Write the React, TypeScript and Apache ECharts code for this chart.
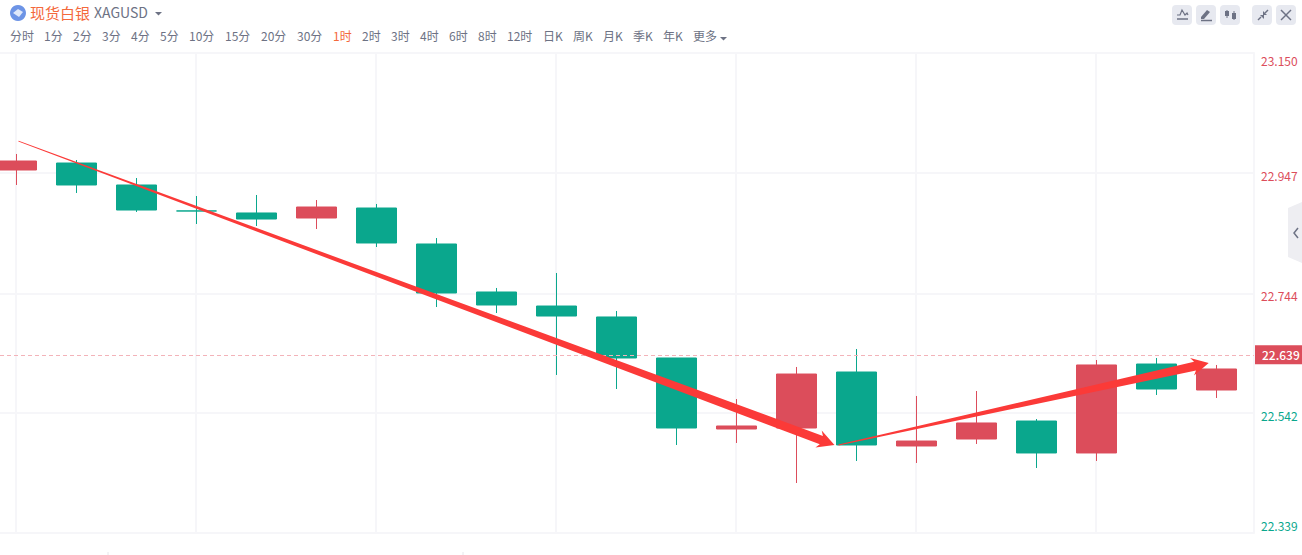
import React, { useEffect, useRef } from "react";
import * as echarts from "echarts";

const FONT = '"Noto Sans CJK SC", "Noto Sans", sans-serif';
const RED = "#dc4d5b";
const GREEN = "#0aa78d";
const ARROW = "#fb3a38";
const GRID_LINE = "#f6f6f9";
const GREY = "#6d7284";

const tabNames = ["分时", "1分", "2分", "3分", "4分", "5分", "10分", "15分", "20分", "30分", "1时", "2时", "3时", "4时", "6时", "8时", "12时", "日K", "周K", "月K", "季K", "年K", "更多"];
const tabLefts = [10, 44, 73, 102, 131, 160, 189, 225, 261, 297, 333, 362, 391, 420, 449, 478, 507, 543, 573, 603, 633, 663, 693];
const activeTab = "1时";

const priceTicks = [22.339, 22.542, 22.744, 22.947, 23.15];
const timeTicks = [0, 3, 6, 9, 12, 15, 18];
const currentPrice = 22.639;

const opens = [22.9523, 22.9641, 22.927, 22.8831, 22.8797, 22.8712, 22.8881, 22.8273, 22.7462, 22.7225, 22.704, 22.6347, 22.5147, 22.5164, 22.611, 22.486, 22.4978, 22.5282, 22.4742, 22.6245, 22.5806];
const closes = [22.9675, 22.927, 22.8847, 22.8831, 22.8695, 22.8898, 22.829, 22.7445, 22.7242, 22.7056, 22.6347, 22.5164, 22.5198, 22.6076, 22.4877, 22.4944, 22.5249, 22.4742, 22.6229, 22.5823, 22.6161];
const lows = [22.927, 22.9135, 22.8814, 22.8611, 22.8577, 22.8526, 22.8222, 22.7208, 22.7107, 22.606, 22.5823, 22.4877, 22.4911, 22.4235, 22.4607, 22.4573, 22.4894, 22.4488, 22.4607, 22.5722, 22.5671];
const highs = [22.9794, 22.9692, 22.9388, 22.9084, 22.9101, 22.9016, 22.8949, 22.8374, 22.753, 22.7783, 22.7141, 22.6347, 22.5654, 22.6195, 22.6499, 22.5705, 22.5789, 22.5316, 22.6313, 22.6347, 22.6229];

// Trend annotations: [start index, start price, end index, end price, neck width]
const downArrow = [0.033, 23.0013, 13.633, 22.4877, 9];
const upArrow = [13.7, 22.4877, 19.87, 22.6262, 9];

const bottomMarks = [108, 463];

function txt(x: number, y: number, text: string, size: number, fill: string) {
  return {
    type: "text",
    x,
    y,
    silent: true,
    style: { text, fill, font: `${size}px ${FONT}`, verticalAlign: "middle", align: "left" },
  };
}
const line = (x1: number, y1: number, x2: number, y2: number, stroke = GREY, lineWidth = 1.5) => ({
  type: "line",
  silent: true,
  shape: { x1, y1, x2, y2 },
  style: { stroke, lineWidth },
});
const poly = (points: number[][], stroke = GREY, lineWidth = 1.5) => ({
  type: "polyline",
  silent: true,
  shape: { points },
  style: { stroke, lineWidth, fill: "none" },
});
const fillPoly = (points: number[][], fill: string) => ({
  type: "polygon",
  silent: true,
  shape: { points },
  style: { fill },
});

function chrome(): any[] {
  const els: any[] = [];
  els.push({ type: "circle", silent: true, shape: { cx: 18, cy: 13, r: 8 }, style: { fill: "#6d94e6" } });
  els.push(fillPoly([[13, 13], [18, 9], [23, 12], [19, 17]], "#dfe8fa"));
  els.push(txt(30, 12, "现货白银", 15, "#f4693c"));
  els.push(txt(94, 12, "XAGUSD", 14, GREY));
  els.push(fillPoly([[155, 12], [162, 12], [158.5, 15.5]], GREY));
  tabNames.forEach((t, i) => els.push(txt(tabLefts[i], 35, t, 12, t === activeTab ? "#f4693c" : GREY)));
  els.push(fillPoly([[720, 37], [727, 37], [723.5, 40.5]], GREY));

  [1172, 1196, 1220, 1252, 1276].forEach((x) =>
    els.push({ type: "rect", silent: true, shape: { x, y: 5, width: 20, height: 20, r: 4 }, style: { fill: "#e7e9f0" } })
  );
  els.push(poly([[1177, 15], [1180, 15], [1182, 10], [1185, 15], [1187, 13], [1188, 15]], GREY, 1.2));
  els.push(line(1177, 19, 1188, 19));
  els.push(fillPoly([[1201, 17], [1207, 10], [1210, 12], [1204, 19], [1201, 19]], GREY));
  els.push(line(1201, 20.5, 1212, 20.5));
  els.push(line(1227, 10, 1227, 18, GREY, 1));
  els.push({ type: "rect", silent: true, shape: { x: 1225, y: 11, width: 4, height: 5 }, style: { fill: GREY } });
  els.push(line(1234, 11, 1234, 20, GREY, 1));
  els.push({ type: "rect", silent: true, shape: { x: 1232, y: 13, width: 4, height: 6 }, style: { fill: GREY } });
  els.push(line(1258, 20, 1261, 17));
  els.push(fillPoly([[1260, 15], [1264, 15], [1264, 19]], GREY));
  els.push(line(1268, 10, 1265, 13));
  els.push(fillPoly([[1263, 11], [1263, 15], [1267, 15]], GREY));
  els.push(line(1281, 10, 1291, 20));
  els.push(line(1291, 10, 1281, 20));

  els.push(fillPoly([[1302, 202], [1288, 208], [1288, 257], [1302, 263]], "#eeeef2"));
  els.push(poly([[1298, 228], [1294, 233], [1298, 238]], GREY, 1.5));
  bottomMarks.forEach((x) => els.push(line(x, 552, x, 555, "#e6e6ea", 1)));
  return els;
}

function renderArrow(_: any, api: any) {
  const a = api.coord([api.value(0), api.value(1)]);
  const b = api.coord([api.value(2), api.value(3)]);
  const neck = api.value(4);
  const dx = b[0] - a[0];
  const dy = b[1] - a[1];
  const len = Math.hypot(dx, dy);
  const ux = dx / len;
  const uy = dy / len;
  const nx = -uy;
  const ny = ux;
  const headLen = 17;
  const headHalf = 9;
  const at = (along: number, side: number) => [a[0] + ux * along + nx * side, a[1] + uy * along + ny * side];
  const base = len - headLen;
  return {
    type: "polygon",
    shape: {
      points: [
        at(0, 0.4),
        at(base + 3, neck / 2),
        at(base, headHalf),
        at(len, 0),
        at(base, -headHalf),
        at(base + 3, -neck / 2),
        at(0, -0.4),
      ],
    },
    style: { fill: ARROW },
  };
}

function buildOption() {
  const candles = opens.map((o, i) => [i, o, closes[i], lows[i], highs[i]]);
  const fmt = (v: number) => Number(v).toFixed(3);
  // half a pixel back so the 2px grid lines sit centred on the candle wicks
  const gridTicks = timeTicks.map((t) => t - 0.6 / 60);
  return {
    animation: false,
    backgroundColor: "#ffffff",
    textStyle: { fontFamily: FONT },
    grid: { left: 0, right: 48, top: 53, bottom: 22, containLabel: false },
    xAxis: {
      type: "value",
      min: -16.5 / 60,
      max: 1237.5 / 60,
      axisLine: { show: false },
      axisTick: { show: false, customValues: gridTicks },
      axisLabel: { show: false, customValues: gridTicks },
      splitLine: { show: true, lineStyle: { color: GRID_LINE, width: 2 } },
    },
    yAxis: {
      type: "value",
      position: "right",
      min: priceTicks[0],
      max: priceTicks[priceTicks.length - 1],
      scale: true,
      axisLine: { show: true, onZero: false, lineStyle: { color: GRID_LINE, width: 2 } },
      axisTick: { show: false, customValues: priceTicks },
      splitLine: { show: true, lineStyle: { color: GRID_LINE, width: 2 } },
      axisLabel: {
        show: true,
        customValues: priceTicks,
        margin: 7,
        align: "left",
        hideOverlap: false,
        showMinLabel: true,
        showMaxLabel: true,
        formatter: (v: number) => {
          const s = fmt(v);
          if (v === priceTicks[0]) return `{low|${s}}`;
          if (v === priceTicks[priceTicks.length - 1]) return `{top|${s}}`;
          return v > currentPrice ? `{up|${s}}` : `{down|${s}}`;
        },
        rich: {
          top: { color: RED, fontSize: 12, fontFamily: FONT, padding: [14, 0, 0, 0] },
          up: { color: RED, fontSize: 12, fontFamily: FONT, padding: [4, 0, 0, 0] },
          down: { color: GREEN, fontSize: 12, fontFamily: FONT, padding: [6, 0, 0, 0] },
          low: { color: GREEN, fontSize: 12, fontFamily: FONT, padding: [0, 0, 16, 0] },
        },
      },
    },
    series: [
      {
        type: "candlestick",
        data: candles,
        encode: { x: 0, y: [1, 2, 3, 4] },
        barWidth: 40,
        clip: false,
        z: 3,
        itemStyle: { color: RED, color0: GREEN, borderColor: RED, borderColor0: GREEN, borderWidth: 1 },
        markLine: {
          silent: true,
          symbol: "none",
          animation: false,
          lineStyle: { color: "#f3b3b9", type: [4, 3], width: 1 },
          label: {
            show: true,
            position: "end",
            distance: 1,
            formatter: () => fmt(currentPrice),
            color: "#ffffff",
            fontFamily: FONT,
            fontSize: 12,
            fontWeight: 500,
            backgroundColor: RED,
            padding: [3, 8, 3, 7],
            lineHeight: 13,
          },
          data: [{ yAxis: currentPrice }],
        },
      },
      {
        type: "custom",
        z: 5,
        silent: true,
        clip: false,
        renderItem: renderArrow,
        encode: { x: [0, 2], y: [1, 3] },
        data: [downArrow, upArrow],
      },
    ],
    graphic: { elements: chrome() },
  };
}

export default function App() {
  const ref = useRef<HTMLDivElement>(null);
  useEffect(() => {
    document.body.style.margin = "0";
    const chart = echarts.init(ref.current!, undefined, { renderer: "svg" });
    chart.setOption(buildOption() as any);
    return () => chart.dispose();
  }, []);
  return <div ref={ref} style={{ width: 1302, height: 555, background: "#fff" }} />;
}
